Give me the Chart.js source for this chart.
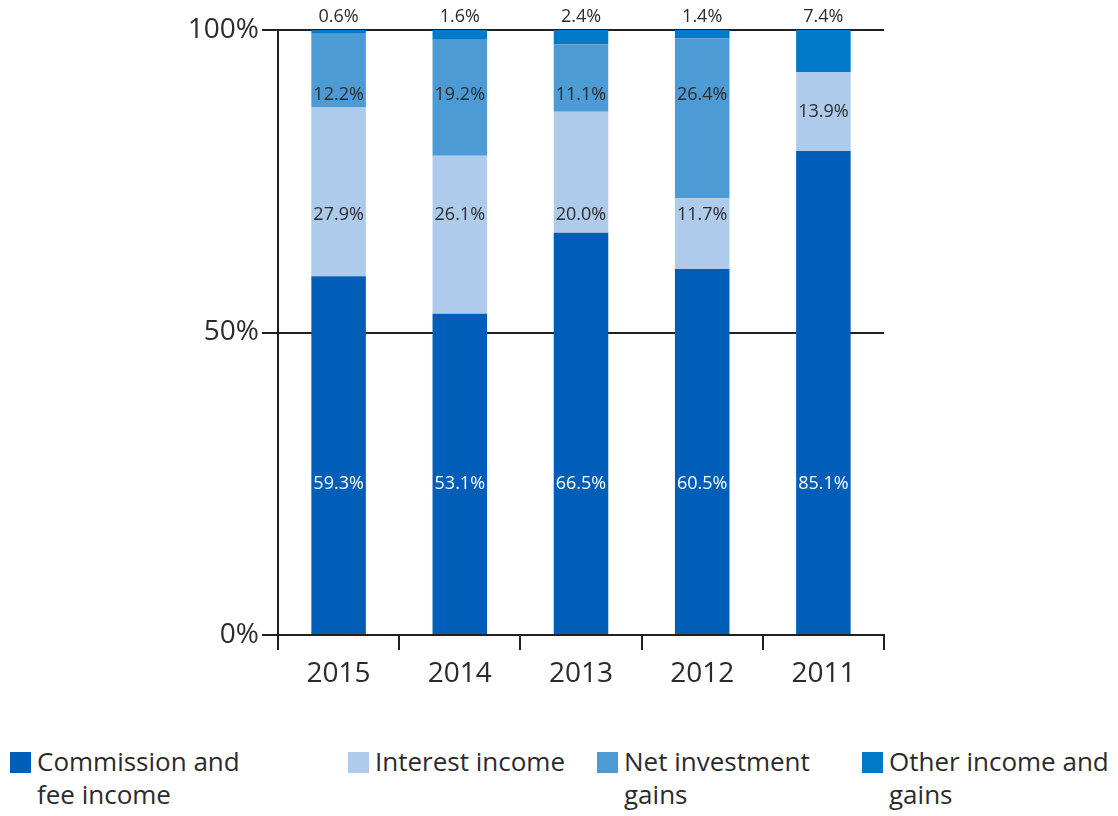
<!DOCTYPE html>
<html>
<head>
<meta charset="utf-8">
<script src="https://cdn.jsdelivr.net/npm/chart.js@4/dist/chart.umd.min.js"></script>
<style>
  body { margin: 0; background: #fff; font-family: "Open Sans", sans-serif; }
  #wrap { position: relative; width: 1118px; height: 816px; }
  #income-chart { position: absolute; left: 0; top: 0; }
  .legend-item { position: absolute; top: 745px; color: #2b2b2b; font-size: 26px; line-height: 33px; }
  .legend-item span.box { position: absolute; left: 0; top: 7px; width: 21px; height: 21px; }
  .legend-item div { margin-left: 27px; }
</style>
</head>
<body>
<div id="wrap">
  <canvas id="income-chart" width="1118" height="700"></canvas>
  <div id="legend"></div>
</div>
<script>
const years = ["2015", "2014", "2013", "2012", "2011"];
const commission = [59.3, 53.1, 66.5, 60.5, 85.1];
const interest = [27.9, 26.1, 20.0, 11.7, 13.9];
const netInvestment = [12.2, 19.2, 11.1, 26.4, 0];
const otherIncome = [0.6, 1.6, 2.4, 1.4, 7.4];
const yTicks = [0, 50, 100];

const seriesNames = [
    "Commission and<br>fee income",
    "Interest income",
    "Net investment<br>gains",
    "Other income and<br>gains"
];
const seriesColors = ["#005eb8", "#aecbeb", "#4d9bd5", "#0079c8"];
const seriesValues = [commission, interest, netInvestment, otherIncome];

const FONT = "'Open Sans', sans-serif";
const LINE = "#231f20";
const TEXT = "#2b2b2b";

// 年ごとの合計（100%積み上げ用）
const totals = years.map((_, i) => seriesValues.reduce((s, arr) => s + arr[i], 0));
const shares = seriesValues.map(arr => arr.map((v, i) => v / totals[i] * 100));

// ラベルの基準位置（%）
const labelLevel = [25, 69.4, 89.3];

const valueLabelPlugin = {
    id: "valueLabels",
    afterDatasetsDraw(chart) {
        const { ctx, chartArea, scales } = chart;
        const y = scales.y;
        ctx.save();
        ctx.font = "18px " + FONT;
        ctx.textAlign = "center";
        ctx.textBaseline = "middle";

        chart.data.datasets.forEach((ds, di) => {
            const meta = chart.getDatasetMeta(di);
            meta.data.forEach((bar, i) => {
                const raw = seriesValues[di][i];
                if (!raw) return;
                const text = raw.toFixed(1) + "%";

                // その他は棒の上に表示
                if (di === 3) {
                    ctx.fillStyle = TEXT;
                    ctx.fillText(text, bar.x, chartArea.top - 13);
                    return;
                }

                let start = 0;
                for (let k = 0; k < di; k++) start += shares[k][i];
                const end = start + shares[di][i];
                let level = labelLevel[di];
                if (level < start + 2 || level > end - 2) {
                    level = (start + end) / 2;
                }
                ctx.fillStyle = di === 0 ? "#ffffff" : TEXT;
                ctx.fillText(text, bar.x, y.getPixelForValue(level));
            });
        });
        ctx.restore();
    }
};

new Chart(document.getElementById("income-chart"), {
    type: "bar",
    data: {
        labels: years,
        datasets: seriesValues.map((_, di) => ({
            label: seriesNames[di].replace("<br>", " "),
            data: shares[di],
            backgroundColor: seriesColors[di],
            borderWidth: 0,
            categoryPercentage: 0.9,
            barPercentage: 0.5
        }))
    },
    options: {
        responsive: false,
        animation: false,
        layout: {
            padding: { left: 0, right: 234, top: 30, bottom: 0 }
        },
        scales: {
            x: {
                stacked: true,
                grid: {
                    offset: true,
                    drawOnChartArea: false,
                    color: LINE,
                    lineWidth: 2,
                    tickLength: 15
                },
                border: { color: LINE, width: 2 },
                ticks: {
                    color: TEXT,
                    padding: 7,
                    font: { family: FONT, size: 28 }
                },
                afterFit(scale) {
                    scale.height = 65;
                }
            },
            y: {
                stacked: true,
                min: 0,
                max: 100,
                afterBuildTicks(scale) {
                    scale.ticks = yTicks.map(v => ({ value: v }));
                },
                grid: {
                    color: LINE,
                    lineWidth: 2,
                    tickLength: 16
                },
                border: { color: LINE, width: 2 },
                ticks: {
                    color: TEXT,
                    padding: 3,
                    font: { family: FONT, size: 28 },
                    callback: v => v + "%"
                },
                afterFit(scale) {
                    scale.width = 278;
                }
            }
        },
        plugins: {
            legend: { display: false },
            tooltip: { enabled: false }
        }
    },
    plugins: [valueLabelPlugin]
});

// 凡例
const legendX = [10, 348, 597, 862];
const legend = document.getElementById("legend");
seriesNames.forEach((name, i) => {
    const item = document.createElement("div");
    item.className = "legend-item";
    item.style.left = legendX[i] + "px";
    item.innerHTML = `<span class="box" style="background:${seriesColors[i]}"></span><div>${name}</div>`;
    legend.appendChild(item);
});
</script>
</body>
</html>
